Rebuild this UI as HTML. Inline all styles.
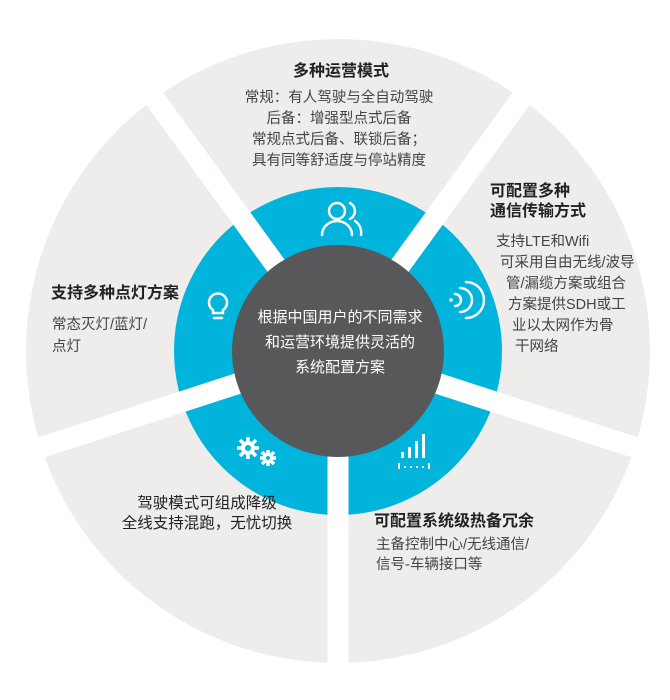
<!DOCTYPE html>
<html><head><meta charset="utf-8"><style>
html,body{margin:0;padding:0;background:#fff;}
svg{display:block;}
text{font-family:"Liberation Sans","Noto Sans CJK SC",sans-serif;}
.h{font-size:16px;font-weight:bold;fill:#222;}
.b{font-size:14.5px;fill:#444;}
.c{font-size:15px;fill:#fff;}
</style></head><body>
<svg width="670" height="700" viewBox="0 0 670 700">
<circle cx="338" cy="351" r="312" fill="#eeedec"/>
<circle cx="338" cy="351" r="164" fill="#00b4dc"/>
<g stroke="#fff" stroke-width="21">
<line x1="338" y1="351" x2="338" y2="700" transform="rotate(0 338 351)"/>
<line x1="338" y1="351" x2="338" y2="700" transform="rotate(72 338 351)"/>
<line x1="338" y1="351" x2="338" y2="700" transform="rotate(144 338 351)"/>
<line x1="338" y1="351" x2="338" y2="700" transform="rotate(216 338 351)"/>
<line x1="338" y1="351" x2="338" y2="700" transform="rotate(288 338 351)"/>
</g>
<circle cx="338" cy="351" r="106" fill="#58585a"/>
<g fill="none" stroke="#fff" stroke-width="2.5" stroke-linecap="round">
<circle cx="337" cy="211" r="8"/>
<path d="M322 235 a15 14 0 0 1 30 0"/>
<path d="M350 203 a9 9 0 0 1 0 16"/>
<path d="M355 221 a14 14 0 0 1 6 14"/>
<path d="M213 313 v-3 a9 9 0 1 1 10 0 v3 z"/>
<line x1="214" y1="318" x2="222" y2="318"/>
<path d="M455 294 a6 6 0 0 1 0 12"/>
<path d="M460 288 a12 12 0 0 1 0 24"/>
<path d="M466 282 a18 18 0 0 1 0 36"/>
</g>
<circle cx="451" cy="300" r="1.8" fill="#fff"/>
<g fill="#fff">
<circle cx="248" cy="448" r="7"/><circle cx="268" cy="458" r="5"/>
<g stroke="#fff" stroke-width="3.5">
<line x1="248" y1="437" x2="248" y2="459"/><line x1="237" y1="448" x2="259" y2="448"/>
<line x1="240" y1="440" x2="256" y2="456"/><line x1="256" y1="440" x2="240" y2="456"/>
<line x1="268" y1="450" x2="268" y2="466"/><line x1="260" y1="458" x2="276" y2="458"/>
<line x1="262" y1="452" x2="274" y2="464"/><line x1="274" y1="452" x2="262" y2="464"/>
</g>
<circle cx="248" cy="448" r="3" fill="#00b4dc"/><circle cx="268" cy="458" r="2" fill="#00b4dc"/>
<rect x="401" y="452" width="3" height="6"/><rect x="408" y="447" width="3" height="11"/>
<rect x="415" y="441" width="3" height="17"/><rect x="422" y="434" width="3" height="24"/>
<rect x="398" y="463" width="2" height="6"/><rect x="428" y="463" width="2" height="6"/>
<rect x="404" y="466" width="2" height="2"/><rect x="410" y="466" width="2" height="2"/><rect x="416" y="466" width="2" height="2"/><rect x="422" y="466" width="2" height="2"/>
</g>
<text class="c" x="340" y="322" text-anchor="middle">根据中国用户的不同需求</text>
<text class="c" x="340" y="347" text-anchor="middle">和运营环境提供灵活的</text>
<text class="c" x="340" y="372" text-anchor="middle">系统配置方案</text>
<text class="h" x="341" y="76" text-anchor="middle">多种运营模式</text>
<text class="b" x="339" y="102" text-anchor="middle">常规：有人驾驶与全自动驾驶</text>
<text class="b" x="339" y="123" text-anchor="middle">后备：增强型点式后备</text>
<text class="b" x="339" y="144" text-anchor="middle">常规点式后备、联锁后备；</text>
<text class="b" x="339" y="165" text-anchor="middle">具有同等舒适度与停站精度</text>
<text class="h" x="490" y="196">可配置多种</text>
<text class="h" x="490" y="216">通信传输方式</text>
<text class="b" x="496" y="246">支持LTE和Wifi</text>
<text class="b" x="500" y="267">可采用自由无线/波导</text>
<text class="b" x="506" y="288">管/漏缆方案或组合</text>
<text class="b" x="508" y="309">方案提供SDH或工</text>
<text class="b" x="512" y="330">业以太网作为骨</text>
<text class="b" x="515" y="351">干网络</text>
<text class="h" x="51" y="298">支持多种点灯方案</text>
<text class="b" x="52" y="329">常态灭灯/蓝灯/</text>
<text class="b" x="52" y="351">点灯</text>
<text class="h" x="207" y="508" text-anchor="middle" style="font-weight:normal;font-size:15.5px;">驾驶模式可组成降级</text>
<text class="h" x="207" y="528" text-anchor="middle" style="font-weight:normal;font-size:15.5px;">全线支持混跑，无忧切换</text>
<text class="h" x="374" y="526">可配置系统级热备冗余</text>
<text class="b" x="376" y="549">主备控制中心/无线通信/</text>
<text class="b" x="376" y="569">信号-车辆接口等</text>
</svg>
</body></html>
